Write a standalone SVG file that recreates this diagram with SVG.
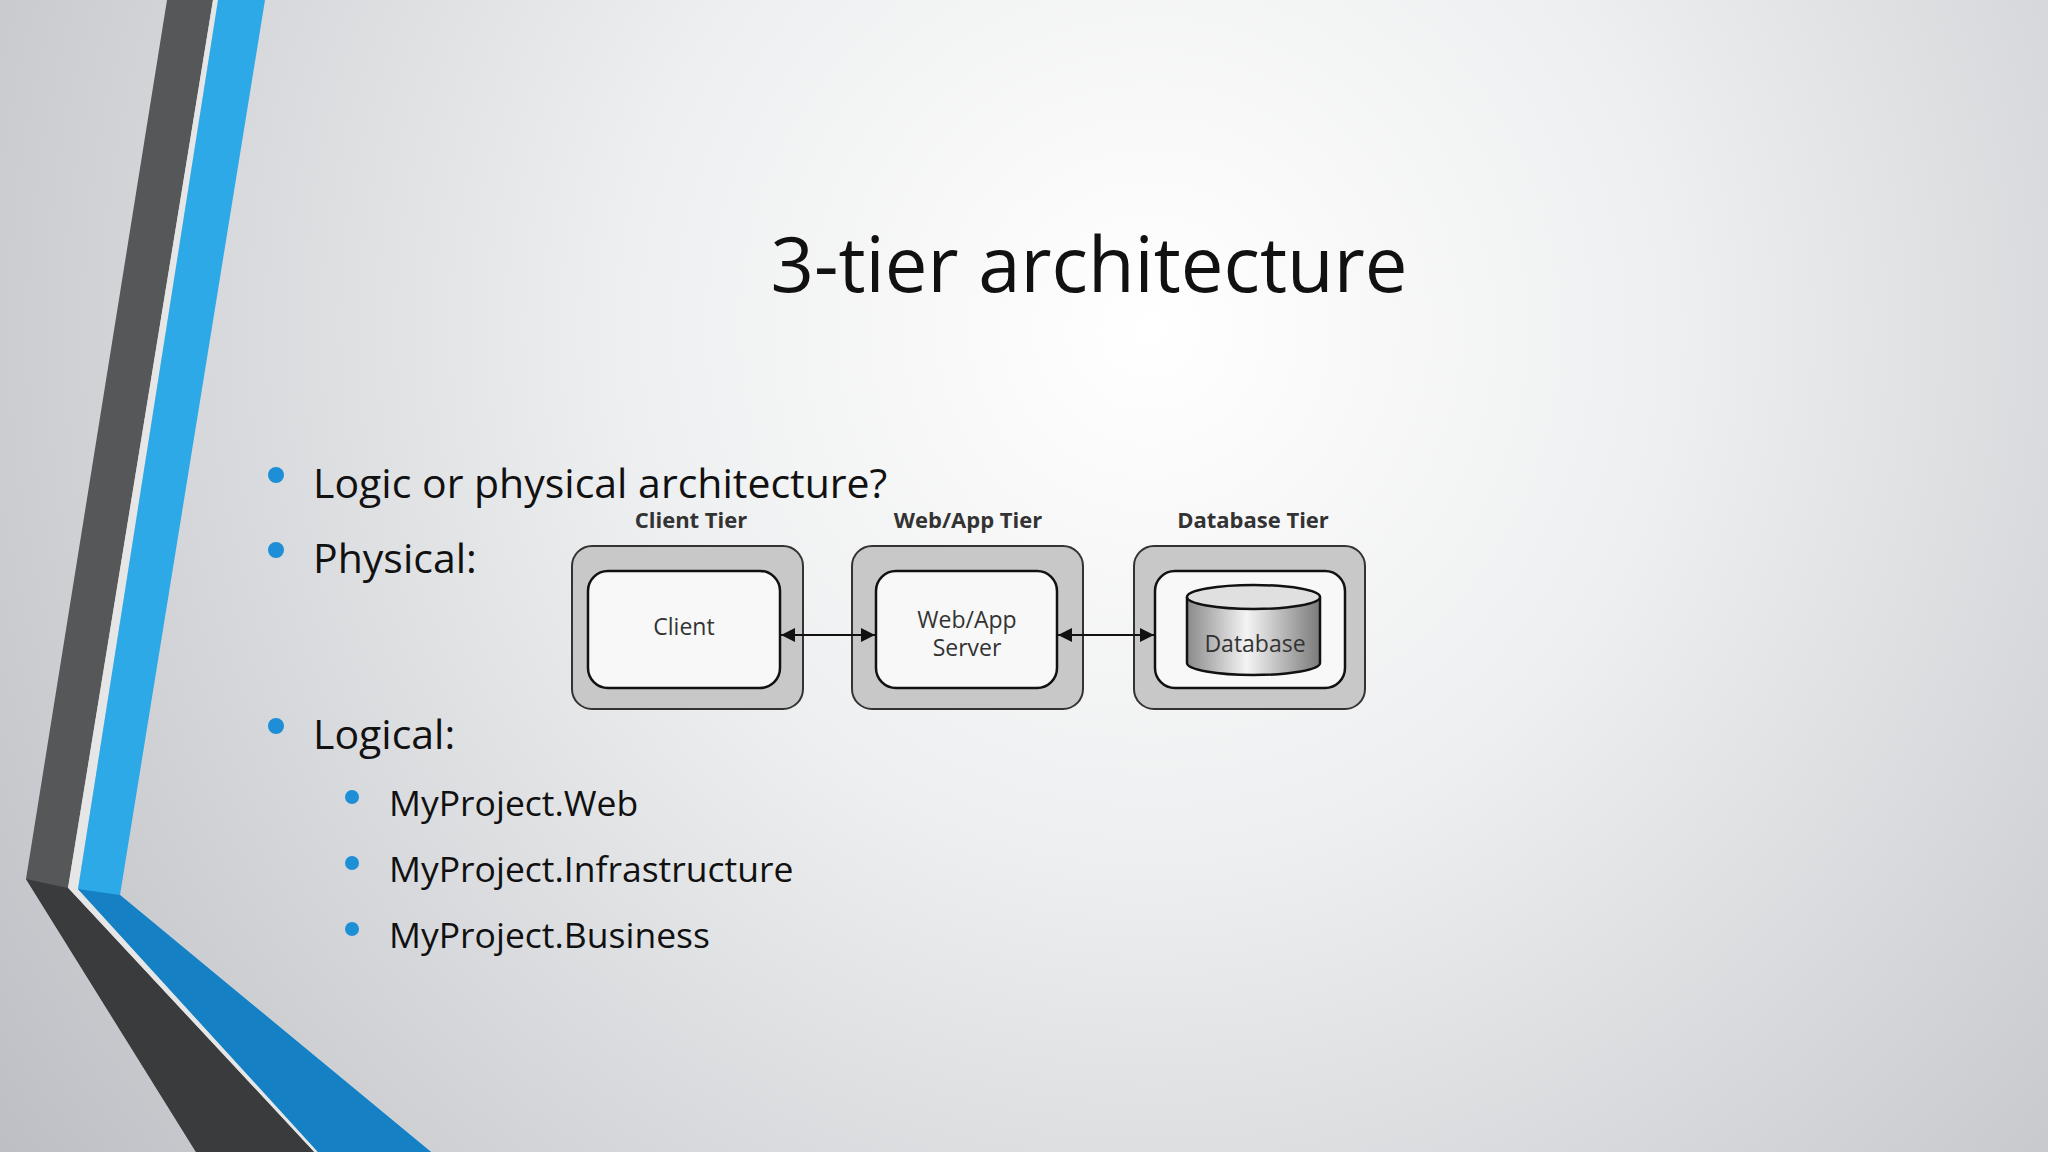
<svg xmlns="http://www.w3.org/2000/svg" width="2048" height="1152" viewBox="0 0 2048 1152">
<defs>
<radialGradient id="bg" cx="1150" cy="330" r="1500" gradientUnits="userSpaceOnUse">
<stop offset="0" stop-color="#ffffff"/><stop offset="0.35" stop-color="#eeeff0"/><stop offset="1" stop-color="#b9bac0"/>
</radialGradient>
<linearGradient id="cyl" x1="0" x2="1" y1="0" y2="0">
<stop offset="0" stop-color="#8a8a8a"/><stop offset="0.45" stop-color="#f4f4f4"/><stop offset="1" stop-color="#7a7a7a"/>
</linearGradient>
<marker id="ah" viewBox="0 0 10 10" refX="10" refY="5" markerWidth="7" markerHeight="7" orient="auto-start-reverse"><path d="M0,0 L10,5 L0,10 z" fill="#111"/></marker>
<style>
.t{font-family:"Open Sans","Liberation Sans",sans-serif;fill:#111}
.outer{fill:#c8c8c8;stroke:#333;stroke-width:2}
.inner{fill:#f8f8f8;stroke:#111;stroke-width:2.5}
.lbl{font-family:"Open Sans","Liberation Sans",sans-serif;font-size:22px;font-weight:bold;fill:#333;text-anchor:middle}
.in{font-family:"Open Sans","Liberation Sans",sans-serif;font-size:23px;fill:#333;text-anchor:middle}
.dot{fill:#1e8fd6}
</style>
</defs>
<rect width="2048" height="1152" fill="url(#bg)"/>
<polygon points="167,0 213,0 68,888 314,1152 196,1152 26,879" fill="#555759"/>
<polygon points="213,0 218,0 78,889 318,1152 314,1152 68,888" fill="#e6e6e6"/>
<polygon points="218,0 265,0 120,895 431,1152 318,1152 78,889" fill="#2ea9e8"/>
<polygon points="78,889 120,895 431,1152 318,1152" fill="#1580c4"/>
<polygon points="26,879 68,888 314,1152 196,1152" fill="#3a3b3d"/>
<text class="t" x="1089" y="292" font-size="76" text-anchor="middle">3-tier architecture</text>
<g id="bullets">
<circle class="dot" cx="276" cy="475" r="8"/><text class="t" x="313" y="498" font-size="41">Logic or physical architecture?</text>
<circle class="dot" cx="276" cy="550" r="8"/><text class="t" x="313" y="573" font-size="41">Physical:</text>
<circle class="dot" cx="276" cy="726" r="8"/><text class="t" x="313" y="749" font-size="41">Logical:</text>
<circle class="dot" cx="352" cy="797" r="7"/><text class="t" x="389" y="816" font-size="35.5">MyProject.Web</text>
<circle class="dot" cx="352" cy="863" r="7"/><text class="t" x="389" y="882" font-size="35.5">MyProject.Infrastructure</text>
<circle class="dot" cx="352" cy="929" r="7"/><text class="t" x="389" y="948" font-size="35.5">MyProject.Business</text>
</g>
<g id="client">
<text class="lbl" x="691" y="528">Client Tier</text>
<rect class="outer" x="572" y="546" width="231" height="163" rx="20"/>
<rect class="inner" x="588" y="571" width="192" height="117" rx="20"/>
<text class="in" x="684" y="635">Client</text>
</g>
<g id="web">
<text class="lbl" x="968" y="528">Web/App Tier</text>
<rect class="outer" x="852" y="546" width="231" height="163" rx="20"/>
<rect class="inner" x="876" y="571" width="181" height="117" rx="20"/>
<text class="in" x="967" y="628">Web/App</text>
<text class="in" x="967" y="656">Server</text>
</g>
<g id="db">
<text class="lbl" x="1253" y="528">Database Tier</text>
<rect class="outer" x="1134" y="546" width="231" height="163" rx="20"/>
<rect class="inner" x="1155" y="571" width="190" height="117" rx="20"/>
<path d="M1187,597 L1187,663 A66.5,12 0 0 0 1320,663 L1320,597" fill="url(#cyl)" stroke="#111" stroke-width="2.5"/>
<ellipse cx="1253.5" cy="597" rx="66.5" ry="12" fill="#e0e0e0" stroke="#111" stroke-width="2.5"/>
<text class="in" x="1255" y="652">Database</text>
</g>
<g id="connectors" stroke="#111" stroke-width="2" marker-start="url(#ah)" marker-end="url(#ah)">
<line x1="781" y1="635" x2="875" y2="635"/>
<line x1="1058" y1="635" x2="1154" y2="635"/>
</g>
</svg>
